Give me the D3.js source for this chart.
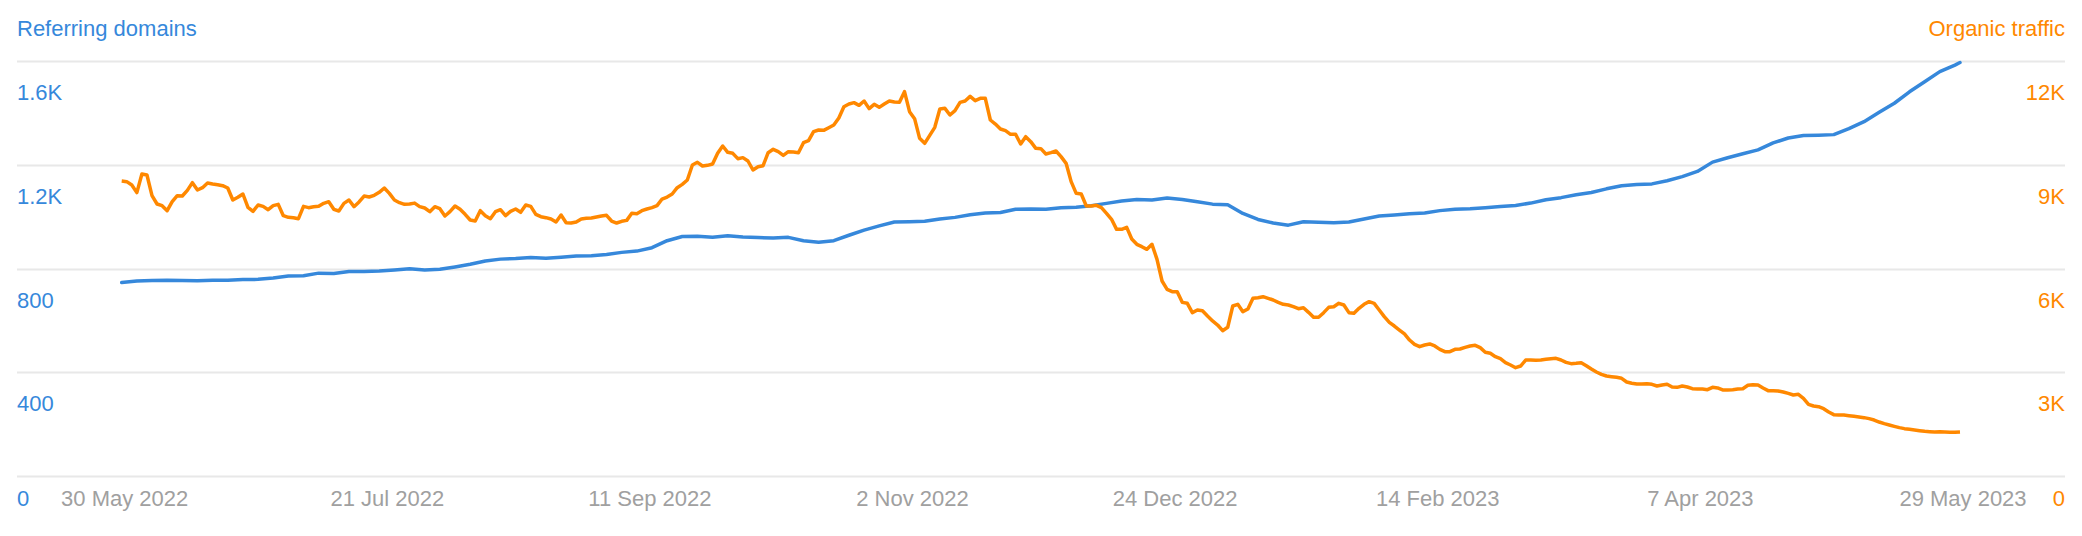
<!DOCTYPE html>
<html>
<head>
<meta charset="utf-8">
<script src="https://cdn.jsdelivr.net/npm/d3@7"></script>
<style>
    body { margin: 0; background: #fff; }
    .chart text { font-family: Arial, "Liberation Sans", sans-serif; font-size: 22px; }
</style>
</head>
<body>
<div class="chart"></div>
<script>
// first day of the series, one traffic value per day after that
const startDay = Date.UTC(2022, 4, 30);
const endDay = Date.UTC(2023, 4, 29);

// referring domains, read every 3rd day (last value is the final day)
const domainsValues = [
    750, 756, 758, 759, 758, 757, 759, 759, 761, 762, 767, 775, 776, 786, 785, 792, 792, 794, 798, 803,
    798, 801, 810, 820, 833, 840, 842, 846, 843, 847, 852, 853, 858, 866, 871, 884, 911, 927, 928, 924,
    930, 925, 923, 921, 924, 911, 905, 911, 932, 952, 968, 983, 984, 986, 995, 1001, 1011, 1018, 1020, 1032,
    1033, 1032, 1038, 1040, 1046, 1055, 1064, 1070, 1068, 1076, 1070, 1061, 1052, 1050, 1016, 993, 979, 971, 984, 982,
    980, 983, 995, 1006, 1010, 1015, 1018, 1027, 1032, 1034, 1038, 1043, 1047, 1056, 1069, 1077, 1088, 1097, 1111, 1123,
    1128, 1130, 1142, 1158, 1178, 1214, 1231, 1246, 1261, 1288, 1307, 1317, 1318, 1320, 1343, 1370, 1406, 1441, 1485, 1524,
    1563, 1588, 1598
];

// organic traffic, daily
const trafficValues = [
    8559, 8540, 8443, 8222, 8761, 8732, 8135, 7894, 7846, 7701,
    7961, 8135, 8125, 8289, 8511, 8299, 8366, 8501, 8472, 8453,
    8424, 8356, 8009, 8087, 8183, 7797, 7682, 7865, 7826, 7730,
    7846, 7884, 7556, 7508, 7499, 7470, 7826, 7788, 7817, 7826,
    7913, 7961, 7740, 7691, 7913, 8009, 7817, 7952, 8125, 8096,
    8144, 8231, 8356, 8202, 8009, 7932, 7884, 7894, 7920, 7817,
    7778, 7672, 7817, 7759, 7547, 7672, 7836, 7740, 7595, 7431,
    7402, 7701, 7556, 7470, 7672, 7730, 7556, 7682, 7749, 7653,
    7865, 7826, 7595, 7527, 7499, 7460, 7373, 7576, 7354, 7344,
    7373, 7460, 7479, 7489, 7518, 7547, 7566, 7402, 7344, 7393,
    7421, 7624, 7614, 7701, 7749, 7788, 7846, 8038, 8096, 8183,
    8366, 8462, 8588, 9021, 9099, 8993, 9012, 9050, 9359, 9571,
    9388, 9359, 9205, 9234, 9137, 8877, 8973, 9002, 9378, 9475,
    9407, 9301, 9407, 9397, 9378, 9667, 9725, 9985, 10034, 10024,
    10101, 10178, 10381, 10708, 10785, 10824, 10747, 10872, 10651, 10776,
    10689, 10785, 10872, 10843, 10834, 11142, 10564, 10361, 9793, 9648,
    9879, 10111, 10641, 10660, 10467, 10593, 10834, 10872, 11007, 10882,
    10949, 10949, 10323, 10207, 10063, 10014, 9908, 9909, 9629, 9841,
    9696, 9504, 9494, 9340, 9378, 9427, 9263, 9070, 8540, 8202,
    8183, 7836, 7836, 7855, 7788, 7624, 7451, 7161, 7161, 7219,
    6882, 6728, 6660, 6583, 6728, 6294, 5667, 5426, 5359, 5359,
    5050, 5022, 4752, 4829, 4809, 4655, 4511, 4395, 4231, 4328,
    4944, 4993, 4781, 4858, 5166, 5185, 5214, 5166, 5118, 5050,
    4993, 4973, 4925, 4867, 4896, 4761, 4617, 4617, 4752, 4906,
    4925, 5022, 4973, 4752, 4732, 4877, 4993, 5070, 5022, 4829,
    4636, 4472, 4366, 4250, 4135, 3961, 3836, 3768, 3817, 3846,
    3788, 3691, 3624, 3624, 3691, 3701, 3749, 3788, 3807, 3740,
    3605, 3576, 3479, 3421, 3306, 3238, 3161, 3209, 3383, 3383,
    3373, 3383, 3402, 3421, 3431, 3383, 3315, 3277, 3287, 3306,
    3219, 3123, 3036, 2968, 2920, 2901, 2882, 2853, 2747, 2709,
    2689, 2689, 2699, 2680, 2631, 2660, 2680, 2603, 2593, 2631,
    2603, 2554, 2545, 2545, 2525, 2593, 2574, 2516, 2516, 2525,
    2545, 2554, 2651, 2670, 2660, 2574, 2497, 2497, 2487, 2458,
    2419, 2371, 2390, 2275, 2101, 2053, 2034, 1976, 1880, 1803,
    1793, 1793, 1774, 1754, 1735, 1716, 1687, 1648, 1590, 1542,
    1504, 1465, 1427, 1398, 1378, 1359, 1340, 1321, 1311, 1301,
    1311, 1301, 1292, 1292, 1301
];

const leftTicks = [0, 400, 800, 1200, 1600];
const leftLabels = ["0", "400", "800", "1.2K", "1.6K"];
const rightTicks = [0, 3000, 6000, 9000, 12000];
const rightLabels = ["0", "3K", "6K", "9K", "12K"];
const dateTicks = ["2022-05-30", "2022-07-21", "2022-09-11", "2022-11-02",
                   "2022-12-24", "2023-02-14", "2023-04-07", "2023-05-29"];

const blue = "#3688db";
const orange = "#ff8800";
const dayMs = 24 * 3600 * 1000;

function display() {
    const width = 2082, height = 536;
    const left = 17, right = 2065;

    const svg = d3.select(".chart")
        .append("svg")
        .attr("width", width)
        .attr("height", height);

    const x = d3.scaleUtc()
        .domain([new Date(startDay), new Date(endDay)])
        .range([121.7, 1960]);
    const yLeft = d3.scaleLinear().domain([0, 1600]).range([477, 62]);
    const yRight = d3.scaleLinear().domain([0, 12000]).range([477, 62]);

    // grid
    svg.selectAll("line.grid")
        .data(leftTicks)
        .enter()
        .append("line")
        .attr("class", "grid")
        .attr("x1", left)
        .attr("x2", right)
        .attr("y1", d => Math.round(yLeft(d)) - 0.5)
        .attr("y2", d => Math.round(yLeft(d)) - 0.5)
        .attr("stroke", "#e8e8e8")
        .attr("stroke-width", 2);

    // titles
    svg.append("text")
        .attr("x", left).attr("y", 36)
        .style("fill", blue)
        .text("Referring domains");
    svg.append("text")
        .attr("x", right).attr("y", 36)
        .attr("text-anchor", "end")
        .style("fill", orange)
        .text("Organic traffic");

    // y labels, sit under their grid line, zero sits on the date row
    svg.selectAll("text.yl")
        .data(leftTicks)
        .enter()
        .append("text")
        .attr("class", "yl")
        .attr("x", left)
        .attr("y", d => d === 0 ? 506 : yLeft(d) + 38)
        .style("fill", blue)
        .text((d, i) => leftLabels[i]);

    svg.selectAll("text.yr")
        .data(rightTicks)
        .enter()
        .append("text")
        .attr("class", "yr")
        .attr("x", right)
        .attr("y", d => d === 0 ? 506 : yRight(d) + 38)
        .attr("text-anchor", "end")
        .style("fill", orange)
        .text((d, i) => rightLabels[i]);

    // date labels
    const fmt = d3.utcFormat("%-d %b %Y");
    svg.selectAll("text.xl")
        .data(dateTicks.map(s => new Date(s + "T00:00:00Z")))
        .enter()
        .append("text")
        .attr("class", "xl")
        .attr("x", d => x(d) + 3)
        .attr("y", 506)
        .attr("text-anchor", "middle")
        .style("fill", "#a0a0a0")
        .text(d => fmt(d));

    // series
    const domains = domainsValues.map((v, i) => ({
        date: new Date(startDay + Math.min(i * 3, 364) * dayMs), value: v
    }));
    const traffic = trafficValues.map((v, i) => ({
        date: new Date(startDay + i * dayMs), value: v
    }));

    svg.append("path")
        .datum(domains)
        .attr("fill", "none")
        .attr("stroke", blue)
        .attr("stroke-width", 3.5)
        .attr("stroke-linejoin", "round")
        .attr("stroke-linecap", "round")
        .attr("d", d3.line().x(d => x(d.date)).y(d => yLeft(d.value)));

    svg.append("path")
        .datum(traffic)
        .attr("fill", "none")
        .attr("stroke", orange)
        .attr("stroke-width", 3.5)
        .attr("stroke-linejoin", "round")
        .attr("d", d3.line().x(d => x(d.date)).y(d => yRight(d.value)));
}

window.onload = function() {
    display();
};
</script>
</body>
</html>
